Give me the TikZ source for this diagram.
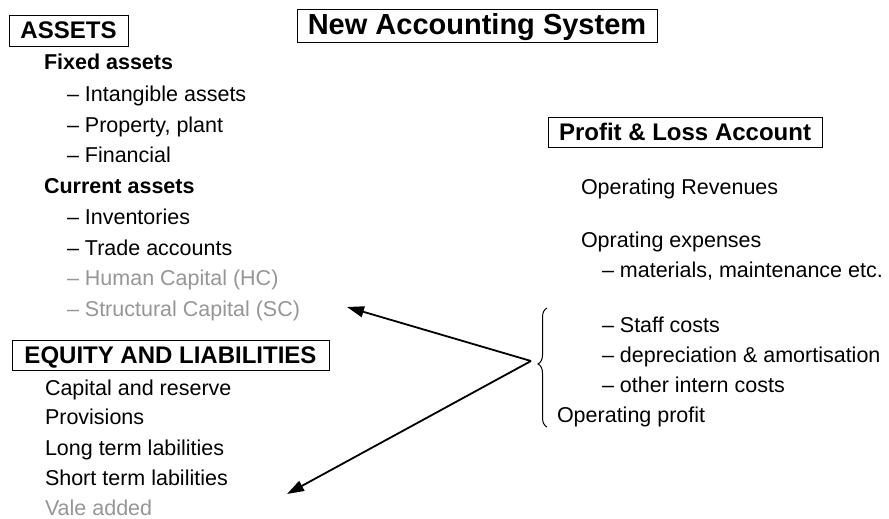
\documentclass[tikz,border=0pt]{standalone}
\usepackage{fontspec}
\setmainfont{Liberation Sans}
\usetikzlibrary{arrows.meta,decorations.pathreplacing}
\definecolor{fadegray}{RGB}{150,150,150}

\begin{document}
\begin{tikzpicture}[x=1pt,y=-1pt,
  every node/.style={inner sep=0pt, outer sep=0pt},
  item/.style={anchor=base west, font=\fontsize{21.5}{24}\selectfont},
  head/.style={item, font=\fontsize{21.5}{24}\selectfont\bfseries},
  faded/.style={text=fadegray},
  boxhead/.style={draw, line width=0.8pt, text height=17.3pt, text depth=0.8pt,
                  font=\fontsize{24}{28}\selectfont\bfseries},
  link/.style={line width=1.8pt, -{Triangle[length=17pt,width=11pt]}}
]
\useasboundingbox (0,0) rectangle (889,519);

% ---- title
\node[boxhead, font=\fontsize{29}{33}\selectfont\bfseries,
      text height=20.9pt, text depth=2.9pt,
      minimum width=360pt, minimum height=33pt] (title) at (477,25.5) {New Accounting System};

% ---- assets side
\node[boxhead, minimum width=119pt, minimum height=31pt] (assets) at (68.5,30.5) {ASSETS};
\node[head] (fixed)  at (44,69.5)  {Fixed assets};
\node[item] (intang) at (67,101.7) {– Intangible assets};
\node[item] (ppe)    at (67,132.3) {– Property, plant};
\node[item] (fin)    at (67,162.8) {– Financial};
\node[head] (curr)   at (44,193.2) {Current assets};
\node[item] (inv)    at (67,224)   {– Inventories};
\node[item] (trade)  at (67,255)   {– Trade accounts};
\node[item, faded] (hc) at (67,285.8) {– Human Capital (HC)};
\node[item, faded] (sc) at (67,316.6) {– Structural Capital (SC)};

% ---- equity and liabilities
\node[boxhead, minimum width=317pt, minimum height=30pt] (equity) at (170.5,355) {EQUITY AND LIABILITIES};
\node[item] (capres) at (45,395)   {Capital and reserve};
\node[item] (prov)   at (45,424.8) {Provisions};
\node[item] (longl)  at (45,455)   {Long term labilities};
\node[item] (shortl) at (45,485.5) {Short term labilities};
\node[item, faded] (va) at (45,515.8) {Vale added};

% ---- profit and loss account
\node[boxhead, minimum width=274pt, minimum height=30pt] (pl) at (685,132) {Profit \& Loss Account};
\node[item] (oprev)  at (581,194)  {Operating Revenues};
\node[item] (opexp)  at (581,247)  {Oprating expenses};
\node[item] (mat)    at (602,277)  {– materials, maintenance etc.};
\node[item] (staff)  at (602,332)  {– Staff costs};
\node[item] (depr)   at (602,362)  {– depreciation \& amortisation};
\node[item] (other)  at (602,392)  {– other intern costs};
\node[item] (opprof) at (557,422)  {Operating profit};

% ---- brace grouping the internal costs
\coordinate (braceBot) at (547,427);
\coordinate (braceTop) at (547,308);
\draw[line width=1pt, decorate, decoration={brace, amplitude=9pt, aspect=0.53}]
  (braceBot) -- (braceTop);

% ---- arrows back to the balance sheet
\coordinate (hub)   at (531,361);
\coordinate (scEnd) at (347,307);
\coordinate (vaEnd) at (287,494);
\draw[link] (hub) -- (scEnd);
\draw[link] (hub) -- (vaEnd);
\end{tikzpicture}
\end{document}
